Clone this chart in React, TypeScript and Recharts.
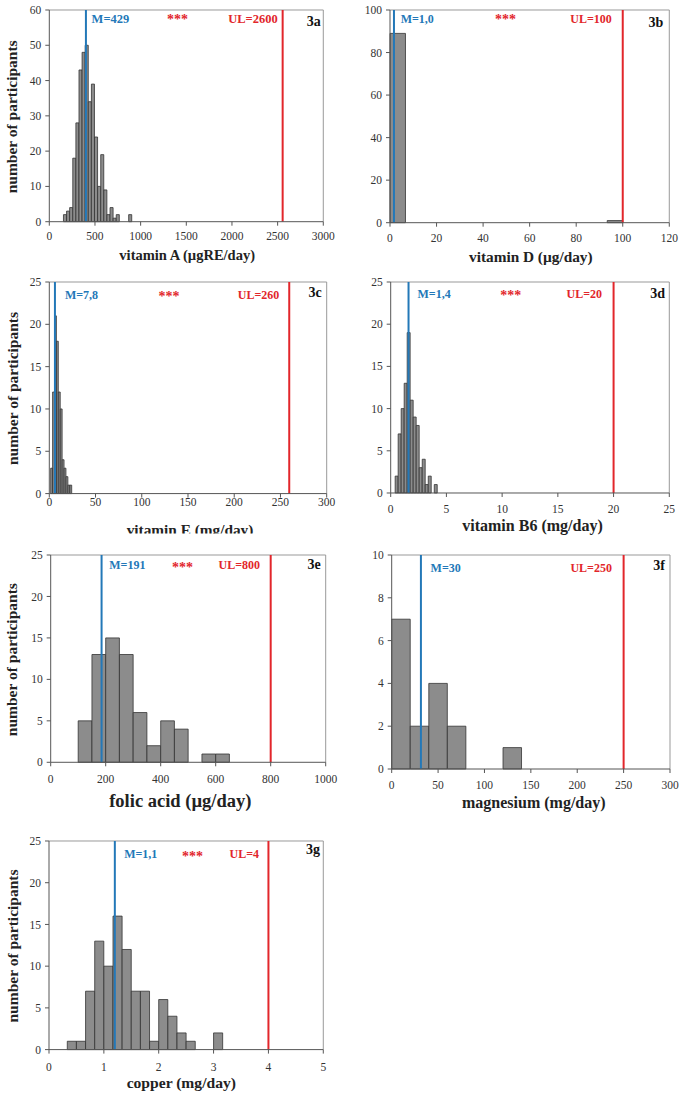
import React from 'react';
import { ComposedChart, Bar, XAxis, YAxis, ReferenceLine } from 'recharts';

const SERIF = '"Liberation Serif", "Times New Roman", Times, serif';
const BLUE = '#2378b8';
const RED = '#e2262b';
const BAR_FILL = '#8c8c8c';
const BAR_EDGE = '#333333';

// 3a vitamin A: bins of 34 starting at 155
const vitAStart = 155;
const vitABin = 34;
const vitACounts = [2, 3, 4, 18, 28, 43, 48, 50, 34, 39, 24, 10, 19, 9, 2, 4, 1, 2, 0, 0, 0, 2];
const vitAXTicks = [0, 500, 1000, 1500, 2000, 2500, 3000];
const vitAYTicks = [0, 10, 20, 30, 40, 50, 60];

// 3b vitamin D
const vitDStart = 0;
const vitDBin = 20 / 3;
const vitDCounts = [89, 0, 0, 0, 0, 0, 0, 0, 0, 0, 0, 0, 0, 0, 1];
const vitDXTicks = [0, 20, 40, 60, 80, 100, 120];
const vitDYTicks = [0, 20, 40, 60, 80, 100];

// 3c vitamin E
const vitEStart = 1.5;
const vitEBin = 2.07;
const vitECounts = [3, 12, 21, 18, 12, 10, 4, 3, 2, 1, 1];
const vitEXTicks = [0, 50, 100, 150, 200, 250, 300];
const vitEYTicks = [0, 5, 10, 15, 20, 25];

// 3d vitamin B6
const vitB6Start = 0.4;
const vitB6Bin = 0.27;
const vitB6Counts = [2, 7, 10, 13, 19, 11, 9, 8, 3, 4, 1, 2, 0, 1];
const vitB6XTicks = [0, 5, 10, 15, 20, 25];
const vitB6YTicks = [0, 5, 10, 15, 20, 25];

// 3e folic acid
const folStart = 100;
const folBin = 50;
const folCounts = [5, 13, 15, 13, 6, 2, 5, 4, 0, 1, 1];
const folXTicks = [0, 200, 400, 600, 800, 1000];
const folYTicks = [0, 5, 10, 15, 20, 25];

// 3f magnesium
const magStart = 0;
const magBin = 20;
const magCounts = [7, 2, 4, 2, 0, 0, 1];
const magXTicks = [0, 50, 100, 150, 200, 250, 300];
const magYTicks = [0, 2, 4, 6, 8, 10];

// 3g copper
const cuStart = 1 / 3;
const cuBin = 1 / 6;
const cuCounts = [1, 1, 7, 13, 10, 16, 12, 7, 7, 1, 6, 4, 2, 1, 0, 0, 2];
const cuXTicks = [0, 1, 2, 3, 4, 5];
const cuYTicks = [0, 5, 10, 15, 20, 25];

// mean (blue) and upper limit (red) lines, where they are drawn
const meanLines = [401, 1.7, 6.1, 1.6, 185, 31.5, 1.2];
const meanLabels = ['M=429', 'M=1,0', 'M=7,8', 'M=1,4', 'M=191', 'M=30', 'M=1,1'];
const ulLines = [2555, 100, 259.5, 20, 800, 250, 4];
const ulLabels = ['UL=2600', 'UL=100', 'UL=260', 'UL=20', 'UL=800', 'UL=250', 'UL=4'];
const panelIds = ['3a', '3b', '3c', '3d', '3e', '3f', '3g'];
const xTitles = [
  'vitamin A (µgRE/day)',
  'vitamin D (µg/day)',
  'vitamin E (mg/day)',
  'vitamin B6 (mg/day)',
  'folic acid (µg/day)',
  'magnesium (mg/day)',
  'copper (mg/day)',
];
const hasStars = [true, true, true, true, true, false, true];

const starts = [vitAStart, vitDStart, vitEStart, vitB6Start, folStart, magStart, cuStart];
const binWidths = [vitABin, vitDBin, vitEBin, vitB6Bin, folBin, magBin, cuBin];
const counts = [vitACounts, vitDCounts, vitECounts, vitB6Counts, folCounts, magCounts, cuCounts];
const xTicks = [vitAXTicks, vitDXTicks, vitEXTicks, vitB6XTicks, folXTicks, magXTicks, cuXTicks];
const yTicks = [vitAYTicks, vitDYTicks, vitEYTicks, vitB6YTicks, folYTicks, magYTicks, cuYTicks];

// page layout of each panel (plot box, label placement)
const frames = [
  { left: 0, L: 49.3, R: 323.3, T: 10, B: 221.7, tickM: 6, mDx: 5.7, mDy: 9, ulDx: 5, lab: 12.5, titleX: 187.2, titleY: 260, titleSize: 14.5, starsX: 177.5, starsY: 17, idInset: 2.6, idY: 26, clip: 0 },
  { left: 340, L: 390, R: 669.3, T: 10, B: 222.7, tickM: 7.3, mDx: 6.7, mDy: 8.8, ulDx: 11, lab: 12, titleX: 530.8, titleY: 261.7, titleSize: 15.3, starsX: 505.5, starsY: 17.3, idInset: 6, idY: 26.7, clip: 0 },
  { left: 0, L: 49.3, R: 326.7, T: 281.7, B: 493.3, tickM: 0, mDx: 10, mDy: 13.5, ulDx: 10, lab: 12, titleX: 190, titleY: 535, titleSize: 15.3, starsX: 169, starsY: 294, idInset: 5, idY: 296.7, clip: 533.5 },
  { left: 340, L: 390.7, R: 669.3, T: 282.3, B: 493.3, tickM: 7.7, mDx: 9, mDy: 12.2, ulDx: 11.6, lab: 12, titleX: 532.5, titleY: 530.7, titleSize: 16, starsX: 510.8, starsY: 293.3, idInset: 4.3, idY: 297.7, clip: 0 },
  { left: 0, L: 50.7, R: 325.7, T: 555, B: 762.3, tickM: 8.7, mDx: 7.7, mDy: 10.2, ulDx: 10.7, lab: 12, titleX: 180.3, titleY: 806.7, titleSize: 18.5, starsX: 182.5, starsY: 565, idInset: 5, idY: 569.3, clip: 0 },
  { left: 340, L: 391.7, R: 670, T: 555, B: 769, tickM: 7.7, mDx: 9.7, mDy: 12.5, ulDx: 11.7, lab: 12, titleX: 533.8, titleY: 808.3, titleSize: 16, starsX: 0, starsY: 0, idInset: 5, idY: 570, clip: 0 },
  { left: 0, L: 49, R: 323.3, T: 840.7, B: 1049.3, tickM: 9, mDx: 9.3, mDy: 12.6, ulDx: 9.4, lab: 12, titleX: 181.3, titleY: 1088.3, titleSize: 15.6, starsX: 192.5, starsY: 854.3, idInset: 3.3, idY: 854.3, clip: 0 },
];

const lineLabel = (text: string, color: string, anchor: 'start' | 'end', dx: number, dy: number, size: number) =>
  (props: any) => {
    const vb = props.viewBox || { x: 0, y: 0 };
    const x = anchor === 'start' ? vb.x + dx : vb.x - dx;
    return (
      <text x={x} y={vb.y + dy} textAnchor={anchor} dominantBaseline="central" fill={color}
        fontFamily={SERIF} fontWeight="bold" fontSize={size}>
        {text}
      </text>
    );
  };

const Histogram = ({ i }: { i: number }) => {
  const f = frames[i];
  const xt = xTicks[i];
  const yt = yTicks[i];
  const xMax = xt[xt.length - 1];
  const yMax = yt[yt.length - 1];
  const data = counts[i].map((n, k) => ({ x: starts[i] + (k + 0.5) * binWidths[i], n }));
  const chartW = f.R - f.left + 14;
  const chartH = f.B - f.T + 40;
  const binPx = (binWidths[i] / xMax) * (f.R - f.L);
  const tickStyle = { fill: '#333', fontSize: 11.5, fontFamily: SERIF };

  return (
    <div style={{ position: 'absolute', left: f.left, top: f.T - 10 }}>
      <ComposedChart width={chartW} height={chartH} data={data} margin={{ top: 10, right: 14, left: 0, bottom: 0 }}>
        <XAxis type="number" dataKey="x" domain={[0, xMax]} ticks={xt} interval={0} height={30}
          tick={tickStyle} tickSize={4} tickMargin={f.tickM}
          axisLine={{ stroke: '#555' }} tickLine={{ stroke: '#555' }} />
        <YAxis type="number" domain={[0, yMax]} ticks={yt} interval={0} width={f.L - f.left}
          tick={tickStyle} tickSize={4} tickMargin={4}
          axisLine={{ stroke: '#555' }} tickLine={{ stroke: '#555' }} />
        <ReferenceLine x={xMax} stroke="#999" strokeWidth={1} />
        <ReferenceLine y={yMax} stroke="#999" strokeWidth={1} />
        <Bar dataKey="n" fill={BAR_FILL} stroke={BAR_EDGE} strokeWidth={0.8}
          barSize={binPx - 0.05} isAnimationActive={false} />
        <ReferenceLine x={meanLines[i]} stroke={BLUE} strokeWidth={2}
          label={lineLabel(meanLabels[i], BLUE, 'start', f.mDx, f.mDy, f.lab)} />
        <ReferenceLine x={ulLines[i]} stroke={RED} strokeWidth={2}
          label={lineLabel(ulLabels[i], RED, 'end', f.ulDx, f.mDy, f.lab)} />
      </ComposedChart>
    </div>
  );
};

export default function App() {
  return (
    <div style={{ position: 'absolute', left: 0, top: 0, width: 685, height: 1099, background: '#fff', overflow: 'hidden' }}>
      {frames.map((_, i) => <Histogram key={i} i={i} />)}
      <svg width={685} height={1099} style={{ position: 'absolute', left: 0, top: 0, pointerEvents: 'none' }}>
        <defs>
          <clipPath id="clipE">
            <rect x={0} y={0} width={685} height={533.5} />
          </clipPath>
        </defs>
        {frames.map((f, i) => (
          <g key={i} fontFamily={SERIF} fontWeight="bold">
            <text x={f.titleX} y={f.titleY} textAnchor="middle" fontSize={f.titleSize} fill="#222"
              clipPath={f.clip ? 'url(#clipE)' : undefined}>
              {xTitles[i]}
            </text>
            <text x={f.R - f.idInset} y={f.idY} textAnchor="end" fontSize={14} fill="#111">{panelIds[i]}</text>
            {hasStars[i] && (
              <text x={f.starsX} y={f.starsY + 2.2} textAnchor="middle" dominantBaseline="central" fontSize={14} fill={RED}>***</text>
            )}
            {f.left === 0 && (
              <text x={12} y={(f.T + f.B) / 2 + 1} textAnchor="middle" dominantBaseline="central" fontSize={15.5} fill="#222"
                transform={`rotate(-90, 12, ${(f.T + f.B) / 2 + 1})`}>
                number of participants
              </text>
            )}
          </g>
        ))}
      </svg>
    </div>
  );
}
